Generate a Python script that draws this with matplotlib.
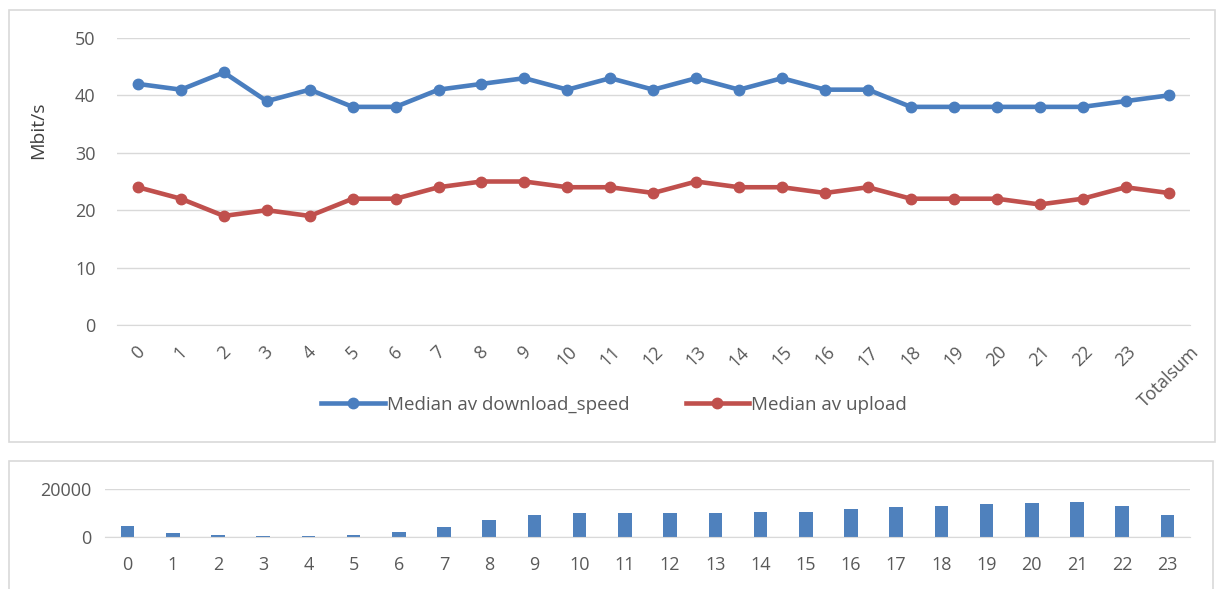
import matplotlib
matplotlib.use("Agg")
import matplotlib.pyplot as plt
from matplotlib.patches import Rectangle
import numpy as np

plt.rcParams['font.family'] = ['Open Sans', 'DejaVu Sans']

# data
hours = [str(h) for h in range(24)]
line_labels = hours + ["Totalsum"]
download = [42, 41, 44, 39, 41, 38, 38, 41, 42, 43, 41, 43, 41,
            43, 41, 43, 41, 41, 38, 38, 38, 38, 38, 39, 40]
upload = [24, 22, 19, 20, 19, 22, 22, 24, 25, 25, 24, 24, 23,
          25, 24, 24, 23, 24, 22, 22, 22, 21, 22, 24, 23]
counts = [4500, 1800, 700, 400, 400, 700, 2200, 4300, 7000, 9200,
          10100, 10100, 9900, 10200, 10400, 10400, 11600, 12600,
          12900, 13600, 14300, 14600, 12900, 9000]

W, H = 1218, 589
txt = "#595959"
grid = "#D9D9D9"
blue = "#4A7EBF"
red = "#C0504D"

fig = plt.figure(figsize=(W / 100, H / 100), dpi=100)

# chart frames
fig.patches.append(Rectangle((9 / W, 1 - 442 / H), 1206 / W, 432 / H,
                             transform=fig.transFigure, fill=False,
                             edgecolor="#D9D9D9", lw=1.2))
fig.patches.append(Rectangle((9 / W, -0.01), 1204 / W, 1 - 461 / H + 0.01,
                             transform=fig.transFigure, fill=False,
                             edgecolor="#D9D9D9", lw=1.2))

# top chart
ax = fig.add_axes([116.5 / W, 1 - 325 / H, (1190 - 116.5) / W, 287 / H])
x = np.arange(len(line_labels))
ax.plot(x, download, color=blue, lw=3.3, marker="o", ms=7.5,
        label="Median av download_speed")
ax.plot(x, upload, color=red, lw=3.3, marker="o", ms=7.5,
        label="Median av upload")
ax.set_xlim(-0.5, len(line_labels) - 0.5)
ax.set_ylim(0, 50)
ax.set_yticks([0, 10, 20, 30, 40, 50])
ax.set_xticks(x)
ax.set_xticklabels(line_labels, rotation=45, ha="center", va="top")
ax.yaxis.grid(True, color=grid, lw=1)
ax.set_axisbelow(True)
for s in ["top", "right", "left"]:
    ax.spines[s].set_visible(False)
ax.spines["bottom"].set_color(grid)
ax.tick_params(length=0, labelsize=13, colors=txt)
ax.tick_params(axis="x", pad=13)
ax.tick_params(axis="y", pad=15)
fig.text(38 / W, 1 - 130 / H, "Mbit/s", rotation=90, ha="center",
         va="center", fontsize=14, color="#404040")
leg = ax.legend(loc="center", bbox_to_anchor=(614 / W, 1 - 405 / H),
                bbox_transform=fig.transFigure, ncol=2, frameon=False,
                fontsize=13.5, handlelength=3.4, handletextpad=0.1,
                columnspacing=3.0)
for t in leg.get_texts():
    t.set_color(txt)

# bottom chart
ax2 = fig.add_axes([105 / W, 1 - 537 / H, (1190 - 105) / W, 48 / H])
xb = np.arange(len(hours))
ax2.bar(xb, counts, width=0.3, color="#4F81BD")
ax2.set_xlim(-0.5, len(hours) - 0.5)
ax2.set_ylim(0, 20000)
ax2.set_yticks([0, 20000])
ax2.set_xticks(xb)
ax2.set_xticklabels(hours)
ax2.yaxis.grid(True, color=grid, lw=1)
ax2.set_axisbelow(True)
for s in ["top", "right", "left"]:
    ax2.spines[s].set_visible(False)
ax2.spines["bottom"].set_color(grid)
ax2.tick_params(length=0, labelsize=13, colors=txt)
ax2.tick_params(axis="x", pad=14)
ax2.tick_params(axis="y", pad=10)

fig.savefig("out.png", dpi=100)
